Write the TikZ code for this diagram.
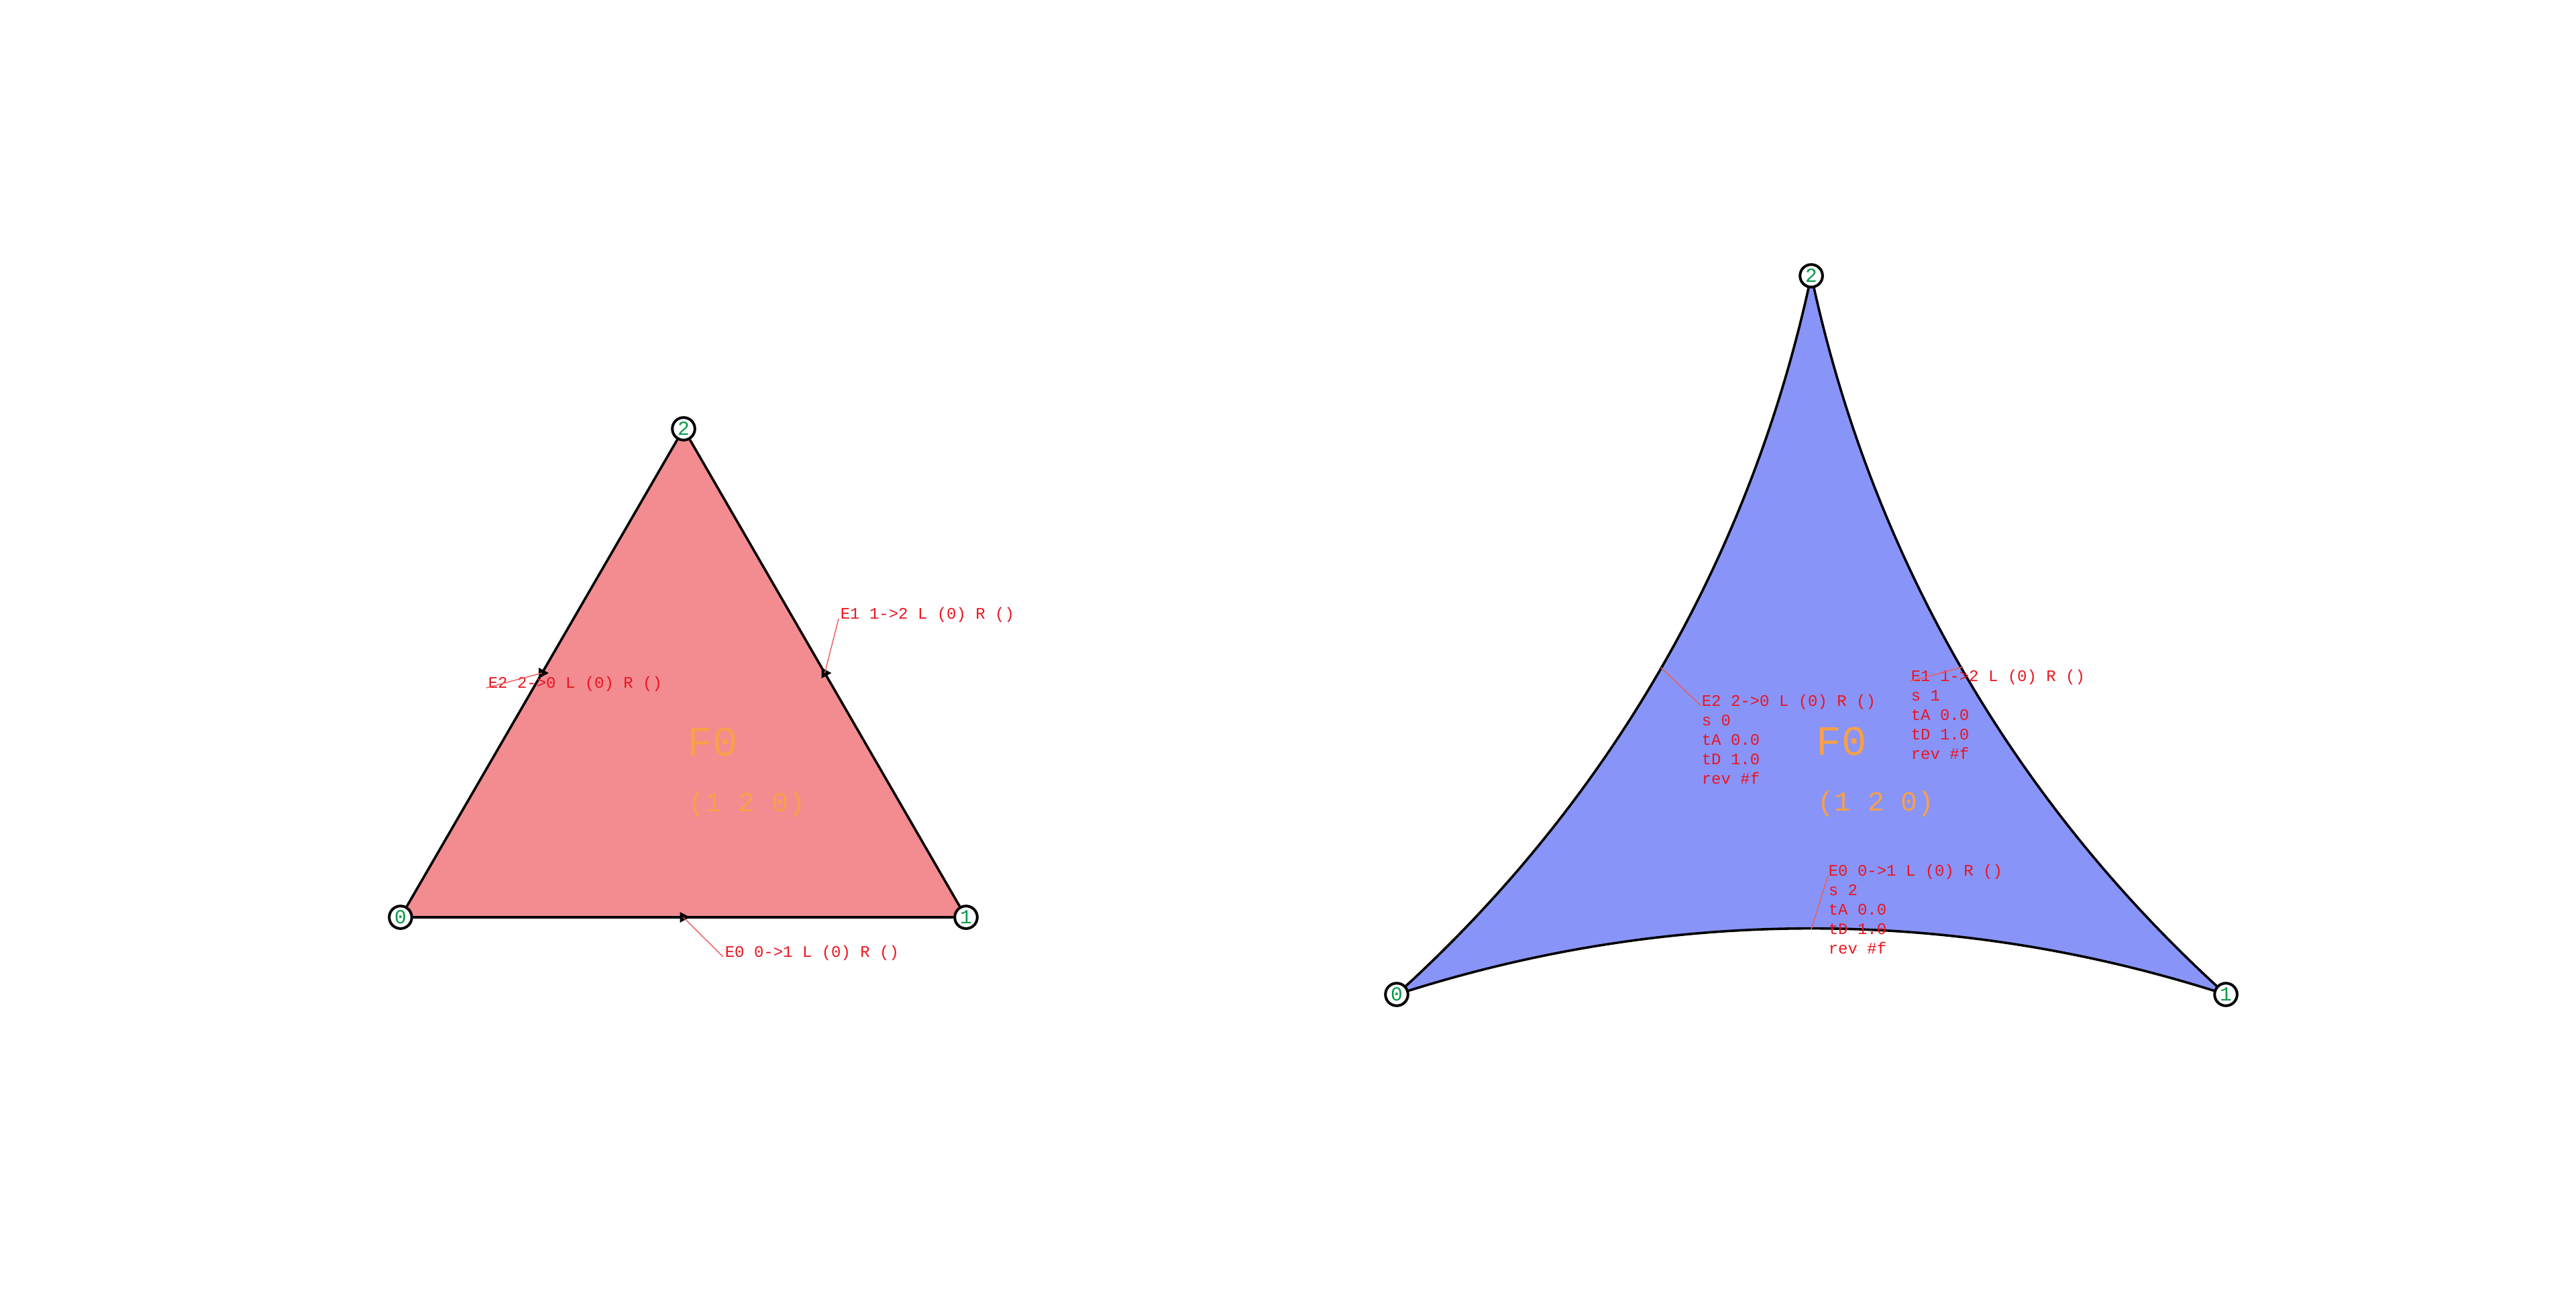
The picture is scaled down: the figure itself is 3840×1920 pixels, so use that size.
\documentclass[tikz,border=0pt]{standalone}
\usepackage{fontspec}
\newfontfamily\lblfont{Liberation Mono}
\definecolor{pinkF}{RGB}{242,140,145}
\definecolor{blueF}{RGB}{137,148,248}
\definecolor{orangeT}{RGB}{247,160,72}
\definecolor{redT}{RGB}{235,20,30}
\definecolor{leadC}{RGB}{240,90,90}
\definecolor{greenT}{RGB}{0,155,70}
\tikzset{
  vtx/.style={circle, draw=black, line width=1pt, fill=white, minimum size=8.4pt, inner sep=0pt,
    font=\lblfont\fontsize{7.4pt}{8pt}\selectfont, text=greenT},
  edgeline/.style={draw=black, line width=0.9pt},
  elbl/.style={anchor=base west, inner sep=0pt, text=redT, font=\lblfont\fontsize{6pt}{7pt}\selectfont},
  lead/.style={draw=leadC, line width=0.35pt},
  fname/.style={anchor=base west, inner sep=0pt, text=orangeT, font=\lblfont\fontsize{15.6pt}{16pt}\selectfont},
  fcyc/.style={anchor=base west, inner sep=0pt, text=orangeT, font=\lblfont\fontsize{10.3pt}{11pt}\selectfont},
  arrowhd/.style={fill=black},
}
\begin{document}
\begin{tikzpicture}[x=0.25pt,y=-0.25pt]
\useasboundingbox (0,0) rectangle (3840,1920);
% ---------------- left triangle ----------------
\fill[pinkF] (597,1367) -- (1440,1367) -- (1019,639) -- cycle;
\node[vtx] (L0) at (597,1367) {0};
\node[vtx] (L1) at (1440,1367) {1};
\node[vtx] (L2) at (1019,639) {2};
\draw[edgeline] (L0) -- (L1);
\draw[edgeline] (L1) -- (L2);
\draw[edgeline] (L2) -- (L0);
\coordinate (m01) at (1018.5,1367);
\coordinate (m12) at (1229.5,1003);
\coordinate (m20) at (808,1003);
\fill[arrowhd] (m01) ++(-5,-8) -- ++(15,8) -- ++(-15,8) -- cycle;
\fill[arrowhd] (m12) ++(-5,-8) -- ++(15,8) -- ++(-15,8) -- cycle;
\fill[arrowhd] (m20) ++(-5,-8) -- ++(15,8) -- ++(-15,8) -- cycle;
\node[fname] (LF) at (1024,1126) {F0};
\node[fcyc] (LC) at (1026,1209) {(1 2 0)};
\node[elbl] (LE0) at (1080,1426) {E0 0->1 L (0) R ()};
\node[elbl] (LE1) at (1252,922) {E1 1->2 L (0) R ()};
\node[elbl] (LE2) at (727,1025) {E2 2->0 L (0) R ()};
\draw[lead] (m01) -- ([xshift=-0.5pt]LE0.base west);
\draw[lead] (m12) -- ([xshift=-0.5pt]LE1.base west);
\draw[lead] (m20) -- ([xshift=-0.5pt]LE2.base west);
% ---------------- right triangle ----------------
\fill[blueF] (2082,1482) .. controls (2494,1352.7) and (2906,1352.7) .. (3318,1482)
  .. controls (3000,1189.7) and (2794,832.7) .. (2700,411)
  .. controls (2606,832.7) and (2400,1189.7) .. (2082,1482) -- cycle;
\node[vtx] (R0) at (2082,1482) {0};
\node[vtx] (R1) at (3318,1482) {1};
\node[vtx] (R2) at (2700,411) {2};
\draw[edgeline] (R0) .. controls (2494,1352.7) and (2906,1352.7) .. (R1);
\draw[edgeline] (R1) .. controls (3000,1189.7) and (2794,832.7) .. (R2);
\draw[edgeline] (R2) .. controls (2606,832.7) and (2400,1189.7) .. (R0);
\coordinate (n01) at (2700,1385);
\coordinate (n12) at (2926,994);
\coordinate (n20) at (2476,995);
\node[fname] (RF) at (2707,1125) {F0};
\node[fcyc] (RC) at (2709,1208) {(1 2 0)};
% E2 block
\node[elbl] (RE2a) at (2536,1052) {E2 2->0 L (0) R ()};
\node[elbl] (RE2b) at (2536,1081) {s 0};
\node[elbl] (RE2c) at (2536,1110) {tA 0.0};
\node[elbl] (RE2d) at (2536,1139) {tD 1.0};
\node[elbl] (RE2e) at (2536,1168) {rev \#f};
% E1 block
\node[elbl] (RE1a) at (2848,1015) {E1 1->2 L (0) R ()};
\node[elbl] (RE1b) at (2848,1044) {s 1};
\node[elbl] (RE1c) at (2848,1073) {tA 0.0};
\node[elbl] (RE1d) at (2848,1102) {tD 1.0};
\node[elbl] (RE1e) at (2848,1131) {rev \#f};
% E0 block
\node[elbl] (RE0a) at (2725,1305) {E0 0->1 L (0) R ()};
\node[elbl] (RE0b) at (2725,1334) {s 2};
\node[elbl] (RE0c) at (2725,1363) {tA 0.0};
\node[elbl] (RE0d) at (2725,1392) {tD 1.0};
\node[elbl] (RE0e) at (2725,1421) {rev \#f};
\draw[lead] (n20) -- (RE2a.base west);
\draw[lead] (n12) -- (RE1a.base west);
\draw[lead] (n01) -- (RE0a.base west);
\end{tikzpicture}
\end{document}
